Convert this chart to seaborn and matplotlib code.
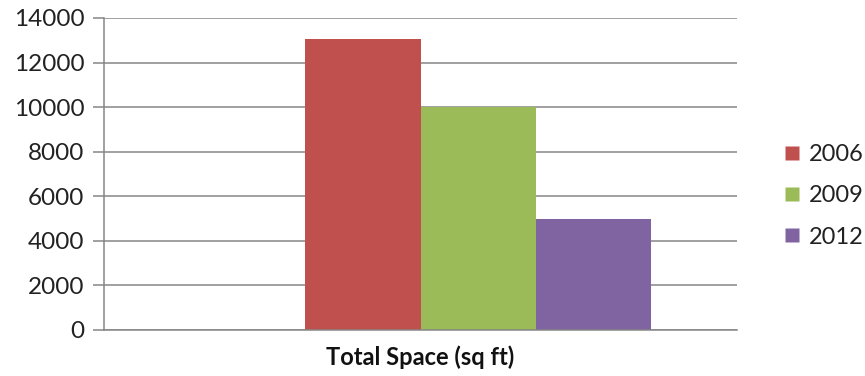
import matplotlib
matplotlib.use("Agg")
import matplotlib.pyplot as plt
import seaborn as sns
import pandas as pd
from matplotlib.lines import Line2D

categories = ["Total Space (sq ft)"]
years = ["2006", "2009", "2012"]
values = [13050, 10000, 5000]
colors = ["#C0504D", "#9BBB59", "#8064A2"]
yticks = [0, 2000, 4000, 6000, 8000, 10000, 12000, 14000]
# the source chart reserves an empty first series slot in the cluster
hue_levels = [" "] + years

df = pd.DataFrame({"category": categories * len(years), "year": years, "value": values})

sns.set_style("white")
plt.rcParams["font.family"] = ["Lato", "DejaVu Sans"]

fig = plt.figure(figsize=(8.65, 3.76), dpi=100)
ax = fig.add_axes([104/865, 1-330/376, (737-104)/865, (330-18)/376])

palette = {" ": "#FFFFFF"}
palette.update(dict(zip(years, colors)))
sns.barplot(data=df, x="category", y="value", hue="year", hue_order=hue_levels,
            palette=palette, width=0.727, saturation=1, ax=ax, legend=False,
            edgecolor="none")

ax.set_xlim(-0.5, 0.5)
ax.set_ylim(0, 14000)
ax.set_yticks(yticks)
ax.set_yticklabels([str(t) for t in yticks], fontsize=17.5, color="#222222")
ax.yaxis.grid(True, color="#868686", linewidth=1.1)
ax.set_axisbelow(True)
ax.set_xlabel("")
ax.set_ylabel("")
ax.tick_params(axis="y", length=8, width=1.1, color="#868686", pad=6, left=True)
ax.tick_params(axis="x", length=0, pad=11)
for lab in ax.get_xticklabels():
    lab.set_fontweight("bold")
    lab.set_fontsize(17)
    lab.set_color("#111111")
for s in ["top", "right"]:
    ax.spines[s].set_visible(False)
for s in ["left", "bottom"]:
    ax.spines[s].set_color("#868686")
    ax.spines[s].set_linewidth(1.1)

handles = [Line2D([0], [0], marker="s", linestyle="none", markersize=10.5,
                  markerfacecolor=c, markeredgecolor="none") for c in colors]
fig.legend(handles, years, loc="center left", bbox_to_anchor=(771/865, 1-196/376),
           frameon=False, fontsize=17, handlelength=0.8, handletextpad=0.3,
           labelspacing=0.85, borderpad=0, labelcolor="#222222")

fig.savefig("out.png", dpi=100)
